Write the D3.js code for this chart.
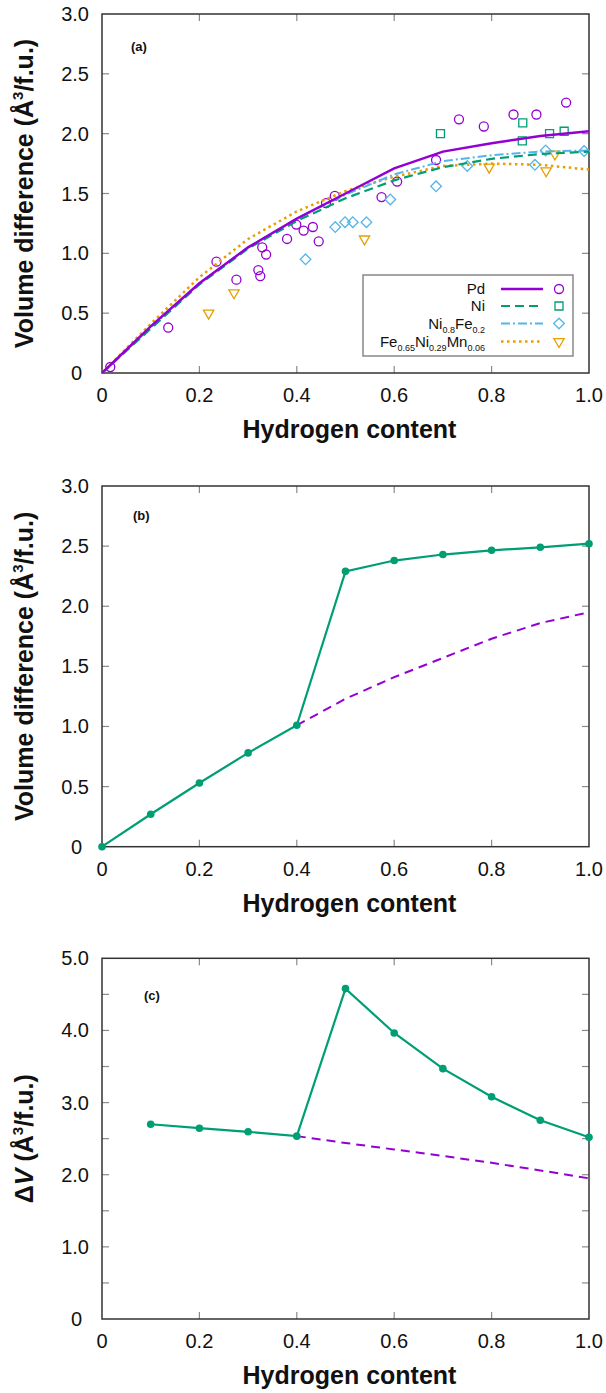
<!DOCTYPE html>
<html>
<head>
<meta charset="utf-8">
<script src="https://cdn.jsdelivr.net/npm/d3@7"></script>
<style>
  body { margin: 0; background: #fff; }
  text { font-family: Arial, "Liberation Sans", sans-serif; fill: #111; }
</style>
</head>
<body>
<div id="chart"></div>
<script>
/*****************************/
/*    Data   */
/*****************************/
const xTicks = [0, 0.2, 0.4, 0.6, 0.8, 1.0];
const xTickLabels = ["0", "0.2", "0.4", "0.6", "0.8", "1.0"];
const yTicksVolume = [0, 0.5, 1.0, 1.5, 2.0, 2.5, 3.0];
const yTickLabelsVolume = ["0", "0.5", "1.0", "1.5", "2.0", "2.5", "3.0"];
const yTicksDelta = [0, 0.5, 1.0, 1.5, 2.0, 2.5, 3.0, 3.5, 4.0, 4.5, 5.0];
const yTickLabelsDelta = ["0", "", "1.0", "", "2.0", "", "3.0", "", "4.0", "", "5.0"];

// panel (a): fitted curves
const fitX = [0, 0.1, 0.2, 0.3, 0.4, 0.5, 0.6, 0.7, 0.8, 0.9, 1.0];
const fitPd = [0, 0.39, 0.75, 1.05, 1.29, 1.50, 1.71, 1.85, 1.92, 1.98, 2.02];
const fitNi = [0, 0.37, 0.74, 1.04, 1.27, 1.46, 1.61, 1.72, 1.79, 1.83, 1.85];
const fitNiFe = [0, 0.38, 0.75, 1.05, 1.29, 1.49, 1.66, 1.77, 1.82, 1.85, 1.86];
const fitFeNiMn = [0, 0.41, 0.80, 1.12, 1.35, 1.52, 1.64, 1.73, 1.75, 1.74, 1.70];

// panel (a): experimental points [hydrogen content, volume difference]
const expPd = [[0.017, 0.05], [0.136, 0.38], [0.235, 0.93], [0.276, 0.78], [0.321, 0.86],
  [0.325, 0.81], [0.329, 1.05], [0.337, 0.99], [0.380, 1.12], [0.399, 1.24], [0.414, 1.19],
  [0.433, 1.22], [0.445, 1.10], [0.460, 1.42], [0.478, 1.48], [0.574, 1.47], [0.606, 1.60],
  [0.686, 1.78], [0.733, 2.12], [0.784, 2.06], [0.845, 2.16], [0.892, 2.16], [0.953, 2.26]];
const expNi = [[0.695, 2.00], [0.864, 2.09], [0.863, 1.94], [0.919, 2.00], [0.949, 2.02]];
const expNiFe = [[0.418, 0.95], [0.479, 1.22], [0.499, 1.26], [0.515, 1.26], [0.543, 1.26],
  [0.592, 1.45], [0.686, 1.56], [0.750, 1.73], [0.889, 1.74], [0.911, 1.86], [0.990, 1.855]];
const expFeNiMn = [[0.219, 0.50], [0.271, 0.67], [0.539, 1.12], [0.795, 1.72], [0.912, 1.69], [0.930, 1.83]];

// panel (b)
const bX = [0, 0.1, 0.2, 0.3, 0.4, 0.5, 0.6, 0.7, 0.8, 0.9, 1.0];
const bCalc = [0, 0.27, 0.53, 0.78, 1.01, 2.29, 2.38, 2.43, 2.465, 2.49, 2.52];
const bFitX = [0.4, 0.5, 0.6, 0.7, 0.8, 0.9, 1.0];
const bFit = [1.01, 1.23, 1.41, 1.57, 1.73, 1.86, 1.95];

// panel (c)
const cX = [0.1, 0.2, 0.3, 0.4, 0.5, 0.6, 0.7, 0.8, 0.9, 1.0];
const cCalc = [2.70, 2.645, 2.595, 2.535, 4.58, 3.965, 3.47, 3.08, 2.755, 2.52];
const cFitX = [0.4, 0.5, 0.6, 0.7, 0.8, 0.9, 1.0];
const cFit = [2.535, 2.44, 2.35, 2.26, 2.165, 2.06, 1.95];

/*****************************/
/*    Declare the constants  */
/*****************************/
const width = 606;
const height = 1393;
const plotLeft = 102;
const plotRight = 589;

const purple = "#9400d3";
const green = "#009e73";
const skyBlue = "#56b4e9";
const orange = "#e69f00";

const svg = d3.select("#chart")
  .append("svg")
    .attr("width", width)
    .attr("height", height)
    .attr("viewBox", `0 0 ${width} ${height}`);

const xScale = d3.scaleLinear().domain([0, 1]).range([plotLeft, plotRight]);

// Draws frame, ticks, labels and axis titles for one panel, returns y scale
const drawFrame = (top, bottom, yMax, yTicks, yLabels, label, labelPos, titleParts) => {
  const yScale = d3.scaleLinear().domain([0, yMax]).range([bottom, top]);
  const g = svg.append("g");

  // inward ticks on all four sides
  const tickColor = "#8a8a8a";
  g.selectAll(".xt")
    .data(xTicks.slice(1, -1))
    .join("g")
    .each(function(d) {
      d3.select(this).append("line")
        .attr("x1", xScale(d)).attr("x2", xScale(d))
        .attr("y1", bottom).attr("y2", bottom - 7)
        .attr("stroke", tickColor).attr("stroke-width", 1.2);
      d3.select(this).append("line")
        .attr("x1", xScale(d)).attr("x2", xScale(d))
        .attr("y1", top).attr("y2", top + 7)
        .attr("stroke", tickColor).attr("stroke-width", 1.2);
    });
  g.selectAll(".yt")
    .data(yTicks.slice(1, -1))
    .join("g")
    .each(function(d) {
      d3.select(this).append("line")
        .attr("x1", plotLeft).attr("x2", plotLeft + 7)
        .attr("y1", yScale(d)).attr("y2", yScale(d))
        .attr("stroke", tickColor).attr("stroke-width", 1.2);
      d3.select(this).append("line")
        .attr("x1", plotRight).attr("x2", plotRight - 7)
        .attr("y1", yScale(d)).attr("y2", yScale(d))
        .attr("stroke", tickColor).attr("stroke-width", 1.2);
    });

  // frame
  g.append("rect")
    .attr("x", plotLeft).attr("y", top)
    .attr("width", plotRight - plotLeft).attr("height", bottom - top)
    .attr("fill", "none")
    .attr("stroke", "#333")
    .attr("stroke-width", 1.5);

  // tick labels
  g.selectAll(".xl")
    .data(xTicks)
    .join("text")
      .attr("x", d => xScale(d))
      .attr("y", bottom + 29)
      .attr("text-anchor", "middle")
      .attr("font-size", 20)
      .text((d, i) => xTickLabels[i]);
  g.selectAll(".yl")
    .data(yTicks)
    .join("text")
      .attr("x", d => d === 0 ? 82 : 89)
      .attr("y", d => yScale(d))
      .attr("dy", "0.35em")
      .attr("text-anchor", "end")
      .attr("font-size", 20)
      .text((d, i) => yLabels[i]);

  // axis titles
  g.append("text")
    .attr("x", (plotLeft + plotRight) / 2 + 4)
    .attr("y", bottom + 65)
    .attr("text-anchor", "middle")
    .attr("font-size", 25)
    .attr("font-weight", "bold")
    .text("Hydrogen content");

  const yTitle = g.append("text")
    .attr("transform", `translate(33, ${(top + bottom) / 2}) rotate(-90)`)
    .attr("text-anchor", "middle")
    .attr("font-size", 25)
    .attr("font-weight", "bold");
  titleParts.forEach(p => {
    const t = yTitle.append("tspan").text(p.text);
    if (p.italic) t.attr("font-style", "italic");
    if (p.sup) t.attr("font-size", 15).attr("dy", -10);
    if (p.after) t.attr("dy", 10);
  });

  // panel label
  g.append("text")
    .attr("x", labelPos[0])
    .attr("y", labelPos[1])
    .attr("font-size", 13)
    .attr("font-weight", "bold")
    .text(label);

  return yScale;
};

const volumeTitle = [
  {text: "Volume difference (Å"}, {text: "3", sup: true}, {text: "/f.u.)", after: true}
];
const deltaTitle = [
  {text: "Δ"}, {text: "V", italic: true}, {text: " (Å"}, {text: "3", sup: true}, {text: "/f.u.)", after: true}
];

/*****************************/
/*         Panel (a)         */
/*****************************/
const yA = drawFrame(14, 373, 3, yTicksVolume, yTickLabelsVolume, "(a)", [131, 51], volumeTitle);

const lineA = d3.line()
  .x(d => xScale(d[0]))
  .y(d => yA(d[1]));

const series = [
  {name: [["Pd", false]], fit: fitPd, exp: expPd, color: purple, dash: null, lw: 2.5, symbol: "circle"},
  {name: [["Ni", false]], fit: fitNi, exp: expNi, color: green, dash: "9,5", lw: 2.2, symbol: "square"},
  {name: [["Ni", false], ["0.8", true], ["Fe", false], ["0.2", true]], fit: fitNiFe, exp: expNiFe, color: skyBlue, dash: "9,3,2,3", lw: 2, symbol: "diamond"},
  {name: [["Fe", false], ["0.65", true], ["Ni", false], ["0.29", true], ["Mn", false], ["0.06", true]], fit: fitFeNiMn, exp: expFeNiMn, color: orange, dash: "2.5,3.5", lw: 2.5, symbol: "triangle"}
];

const symbolPath = (type) => {
  if (type === "circle") return d3.symbol(d3.symbolCircle, 64)();
  if (type === "square") return d3.symbol(d3.symbolSquare, 64)();
  if (type === "diamond") return d3.symbol(d3.symbolSquare, 56)();
  return d3.symbol(d3.symbolTriangle, 46)();
};
const symbolRotate = (type) => type === "diamond" ? 45 : (type === "triangle" ? 180 : 0);

const panelA = svg.append("g");

// experimental markers (drawn first, lines on top)
series.forEach(s => {
  panelA.append("g")
    .selectAll("path")
    .data(s.exp)
    .join("path")
      .attr("d", symbolPath(s.symbol))
      .attr("transform", d => `translate(${xScale(d[0])}, ${yA(d[1])}) rotate(${symbolRotate(s.symbol)})`)
      .attr("fill", "none")
      .attr("stroke", s.color)
      .attr("stroke-width", 1.3);
});

series.slice().reverse().forEach(s => {
  panelA.append("path")
    .datum(fitX.map((x, i) => [x, s.fit[i]]))
    .attr("d", lineA)
    .attr("fill", "none")
    .attr("stroke", s.color)
    .attr("stroke-width", s.lw)
    .attr("stroke-dasharray", s.dash);
});

// legend
const legend = panelA.append("g");
legend.append("rect")
  .attr("x", 363).attr("y", 275)
  .attr("width", 210).attr("height", 81)
  .attr("fill", "#fff")
  .attr("stroke", "#888")
  .attr("stroke-width", 1.5);

const legendRows = [289, 306, 323.5, 341.5];
series.forEach((s, i) => {
  const y = legendRows[i];
  const txt = legend.append("text")
    .attr("x", 485)
    .attr("y", y + 5)
    .attr("text-anchor", "end")
    .attr("font-size", 15);
  let shifted = false;
  s.name.forEach(([t, sub]) => {
    const ts = txt.append("tspan").text(t);
    if (sub && !shifted) { ts.attr("font-size", 9).attr("dy", 4); shifted = true; }
    else if (!sub && shifted) { ts.attr("dy", -4); shifted = false; }
    else if (sub) ts.attr("font-size", 9);
  });
  legend.append("line")
    .attr("x1", 501).attr("x2", 543)
    .attr("y1", y).attr("y2", y)
    .attr("stroke", s.color)
    .attr("stroke-width", s.lw)
    .attr("stroke-dasharray", s.dash);
  legend.append("path")
    .attr("d", symbolPath(s.symbol))
    .attr("transform", `translate(559, ${y}) rotate(${symbolRotate(s.symbol)})`)
    .attr("fill", "none")
    .attr("stroke", s.color)
    .attr("stroke-width", 1.3);
});

/*****************************/
/*         Panel (b)         */
/*****************************/
const yB = drawFrame(486, 846.7, 3, yTicksVolume, yTickLabelsVolume, "(b)", [133, 520], volumeTitle);
const lineB = d3.line().x(d => xScale(d[0])).y(d => yB(d[1]));

svg.append("path")
  .datum(bFitX.map((x, i) => [x, bFit[i]]))
  .attr("d", lineB)
  .attr("fill", "none")
  .attr("stroke", purple)
  .attr("stroke-width", 2)
  .attr("stroke-dasharray", "9,6");

svg.append("path")
  .datum(bX.map((x, i) => [x, bCalc[i]]))
  .attr("d", lineB)
  .attr("fill", "none")
  .attr("stroke", green)
  .attr("stroke-width", 2.2);

svg.append("g")
  .selectAll("circle")
  .data(bX.map((x, i) => [x, bCalc[i]]))
  .join("circle")
    .attr("cx", d => xScale(d[0]))
    .attr("cy", d => yB(d[1]))
    .attr("r", 3.8)
    .attr("fill", green);

/*****************************/
/*         Panel (c)         */
/*****************************/
const yC = drawFrame(958.3, 1319, 5, yTicksDelta, yTickLabelsDelta, "(c)", [144, 1000], deltaTitle);
const lineC = d3.line().x(d => xScale(d[0])).y(d => yC(d[1]));

svg.append("path")
  .datum(cFitX.map((x, i) => [x, cFit[i]]))
  .attr("d", lineC)
  .attr("fill", "none")
  .attr("stroke", purple)
  .attr("stroke-width", 2)
  .attr("stroke-dasharray", "9,6");

svg.append("path")
  .datum(cX.map((x, i) => [x, cCalc[i]]))
  .attr("d", lineC)
  .attr("fill", "none")
  .attr("stroke", green)
  .attr("stroke-width", 2.2);

svg.append("g")
  .selectAll("circle")
  .data(cX.map((x, i) => [x, cCalc[i]]))
  .join("circle")
    .attr("cx", d => xScale(d[0]))
    .attr("cy", d => yC(d[1]))
    .attr("r", 3.8)
    .attr("fill", green);
</script>
</body>
</html>
